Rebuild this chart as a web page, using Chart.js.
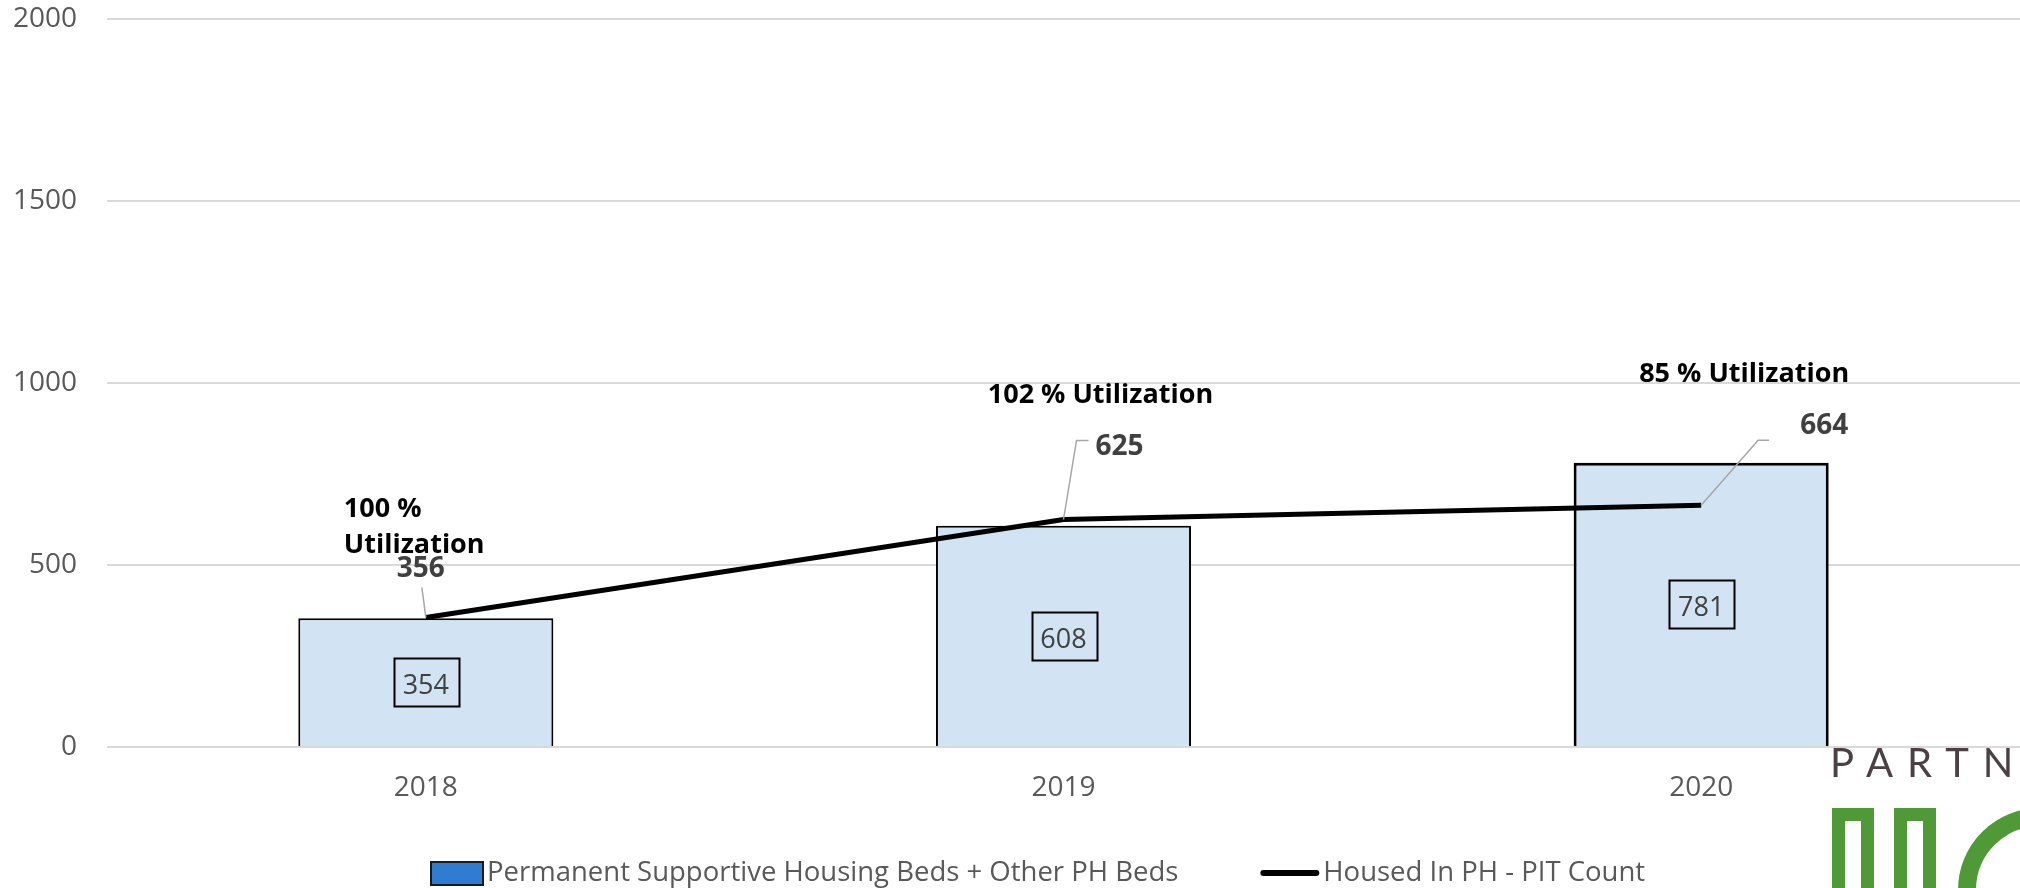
<!DOCTYPE html>
<html>
<head>
<meta charset="utf-8">
<script src="https://cdn.jsdelivr.net/npm/chart.js@4.4.1/dist/chart.umd.min.js"></script>
<style>
  html, body { margin: 0; padding: 0; background: #fff; overflow: hidden; }
  #wrap { position: relative; width: 2020px; height: 888px; overflow: hidden; }
  #chart { position: absolute; left: 0; top: 0; }
  /* partial logo in the bottom-right corner */
  .logo-text { position: absolute; left: 1830px; top: 742px; font-family: Lato, sans-serif; font-size: 40px; line-height: 40px; letter-spacing: 14px; color: #4b4043; }
  .logo-box { position: absolute; top: 808px; width: 16px; height: 120px; border: 13px solid #4f9a36; border-bottom: none; }
  .logo-arc { position: absolute; left: 1958px; top: 808px; width: 128px; height: 128px; border: 18px solid #4f9a36; border-radius: 50%; }
</style>
</head>
<body>
<div id="wrap">
  <canvas id="chart" width="2020" height="888"></canvas>
  <div class="logo-text">PARTN</div>
  <div class="logo-box" style="left:1832px"></div>
  <div class="logo-box" style="left:1894px"></div>
  <div class="logo-arc"></div>
</div>
<script>
// data
const years = ['2018', '2019', '2020'];
const bedCounts = [354, 608, 781];
const housedCounts = [356, 625, 664];
const utilization = [['100 %', 'Utilization'], ['102 % Utilization'], ['85 % Utilization']];
const yTicks = [0, 500, 1000, 1500, 2000];
const seriesNames = ['Permanent Supportive Housing Beds + Other PH Beds', 'Housed In PH - PIT Count'];

// label placement around each line point (pixel offsets from the point)
const valueOffsets = [{ dx: -5, dy: -48 }, { dx: 56, dy: -72 }, { dx: 123, dy: -79 }];
const leaders = [
  [{ dx: -4, dy: -30 }],
  [{ dx: 13, dy: -79 }, { dx: 25, dy: -79 }],
  [{ dx: 57, dy: -65 }, { dx: 68, dy: -65 }]
];
const utilOffsets = [
  { dx: -82, dy: -108, align: 'left' },
  { dx: 37, dy: -124, align: 'center' },
  { dx: 43, dy: -131, align: 'center' }
];

const labelPlugin = {
  id: 'valueLabels',
  afterDatasetsDraw(chart) {
    const ctx = chart.ctx;
    const barMeta = chart.getDatasetMeta(0);
    const lineMeta = chart.getDatasetMeta(1);
    ctx.save();
    ctx.textBaseline = 'middle';

    // boxed labels in the middle of each bar
    barMeta.data.forEach((bar, i) => {
      const cx = bar.x;
      const cy = (bar.y + bar.base) / 2;
      ctx.lineWidth = 2;
      ctx.strokeStyle = '#000';
      ctx.strokeRect(Math.round(cx - 32) + 0.5, Math.round(cy - 24) + 0.5, 65, 48);
      ctx.font = '27px "Open Sans"';
      ctx.fillStyle = '#404040';
      ctx.textAlign = 'center';
      ctx.fillText(String(bedCounts[i]), cx, cy + 4);
    });

    // line values with leader lines
    lineMeta.data.forEach((pt, i) => {
      ctx.strokeStyle = '#a6a6a6';
      ctx.lineWidth = 1.5;
      ctx.beginPath();
      ctx.moveTo(pt.x, pt.y);
      leaders[i].forEach(p => ctx.lineTo(pt.x + p.dx, pt.y + p.dy));
      ctx.stroke();

      ctx.font = 'bold 28px "Open Sans"';
      ctx.fillStyle = '#404040';
      ctx.textAlign = 'center';
      ctx.fillText(String(housedCounts[i]), pt.x + valueOffsets[i].dx, pt.y + valueOffsets[i].dy);

      const u = utilOffsets[i];
      ctx.font = 'bold 27px "Open Sans"';
      ctx.fillStyle = '#000';
      ctx.textAlign = u.align;
      utilization[i].forEach((line, k) => {
        ctx.fillText(line, pt.x + u.dx, pt.y + u.dy + k * 36);
      });
    });
    ctx.restore();
  },
  afterDraw(chart) {
    // legend row under the axis
    const ctx = chart.ctx;
    const y = 873;
    let x = 431;
    ctx.save();
    ctx.font = '27.5px "Open Sans"';
    ctx.textBaseline = 'middle';
    ctx.textAlign = 'left';

    ctx.fillStyle = '#2e7dd1';
    ctx.fillRect(x, y - 11, 52, 23);
    ctx.strokeStyle = '#1a1a1a';
    ctx.lineWidth = 2;
    ctx.strokeRect(x, y - 11, 52, 23);
    x += 56;
    ctx.fillStyle = '#595959';
    ctx.fillText(seriesNames[0], x, y);
    x += ctx.measureText(seriesNames[0]).width + 82;

    ctx.strokeStyle = '#000';
    ctx.lineWidth = 6;
    ctx.lineCap = 'round';
    ctx.beginPath();
    ctx.moveTo(x + 3, y);
    ctx.lineTo(x + 56, y);
    ctx.stroke();
    x += 63;
    ctx.fillText(seriesNames[1], x, y);
    ctx.restore();
  }
};

new Chart(document.getElementById('chart'), {
  data: {
    labels: years,
    datasets: [
      {
        type: 'bar',
        label: seriesNames[0],
        data: bedCounts,
        backgroundColor: '#d2e4f4',
        borderColor: '#000',
        borderWidth: [2, 2, 3],
        barPercentage: 0.4,
        categoryPercentage: 1,
        order: 1
      },
      {
        type: 'line',
        label: seriesNames[1],
        data: housedCounts,
        borderColor: '#000',
        borderWidth: 5,
        pointRadius: 0,
        tension: 0,
        order: 0
      }
    ]
  },
  options: {
    responsive: false,
    animation: false,
    layout: { padding: { top: 19, right: 0, left: 0, bottom: 91 } },
    scales: {
      x: {
        afterFit: s => { s.height = 50; },
        grid: { display: false },
        border: { display: false },
        ticks: { font: { family: 'Open Sans', size: 28 }, color: '#595959', padding: 16 }
      },
      y: {
        min: 0,
        max: 2000,
        afterBuildTicks: s => { s.ticks = yTicks.map(v => ({ value: v })); },
        afterFit: s => { s.width = 107; s.paddingTop = 0; s.paddingBottom = 0; },
        grid: { color: '#d9d9d9', lineWidth: 2, drawTicks: false },
        border: { display: false },
        ticks: { font: { family: 'Open Sans', size: 28 }, color: '#595959', padding: 30, callback: v => String(v) }
      }
    },
    plugins: {
      legend: { display: false },
      tooltip: { enabled: false }
    }
  },
  plugins: [labelPlugin]
});
</script>
</body>
</html>
